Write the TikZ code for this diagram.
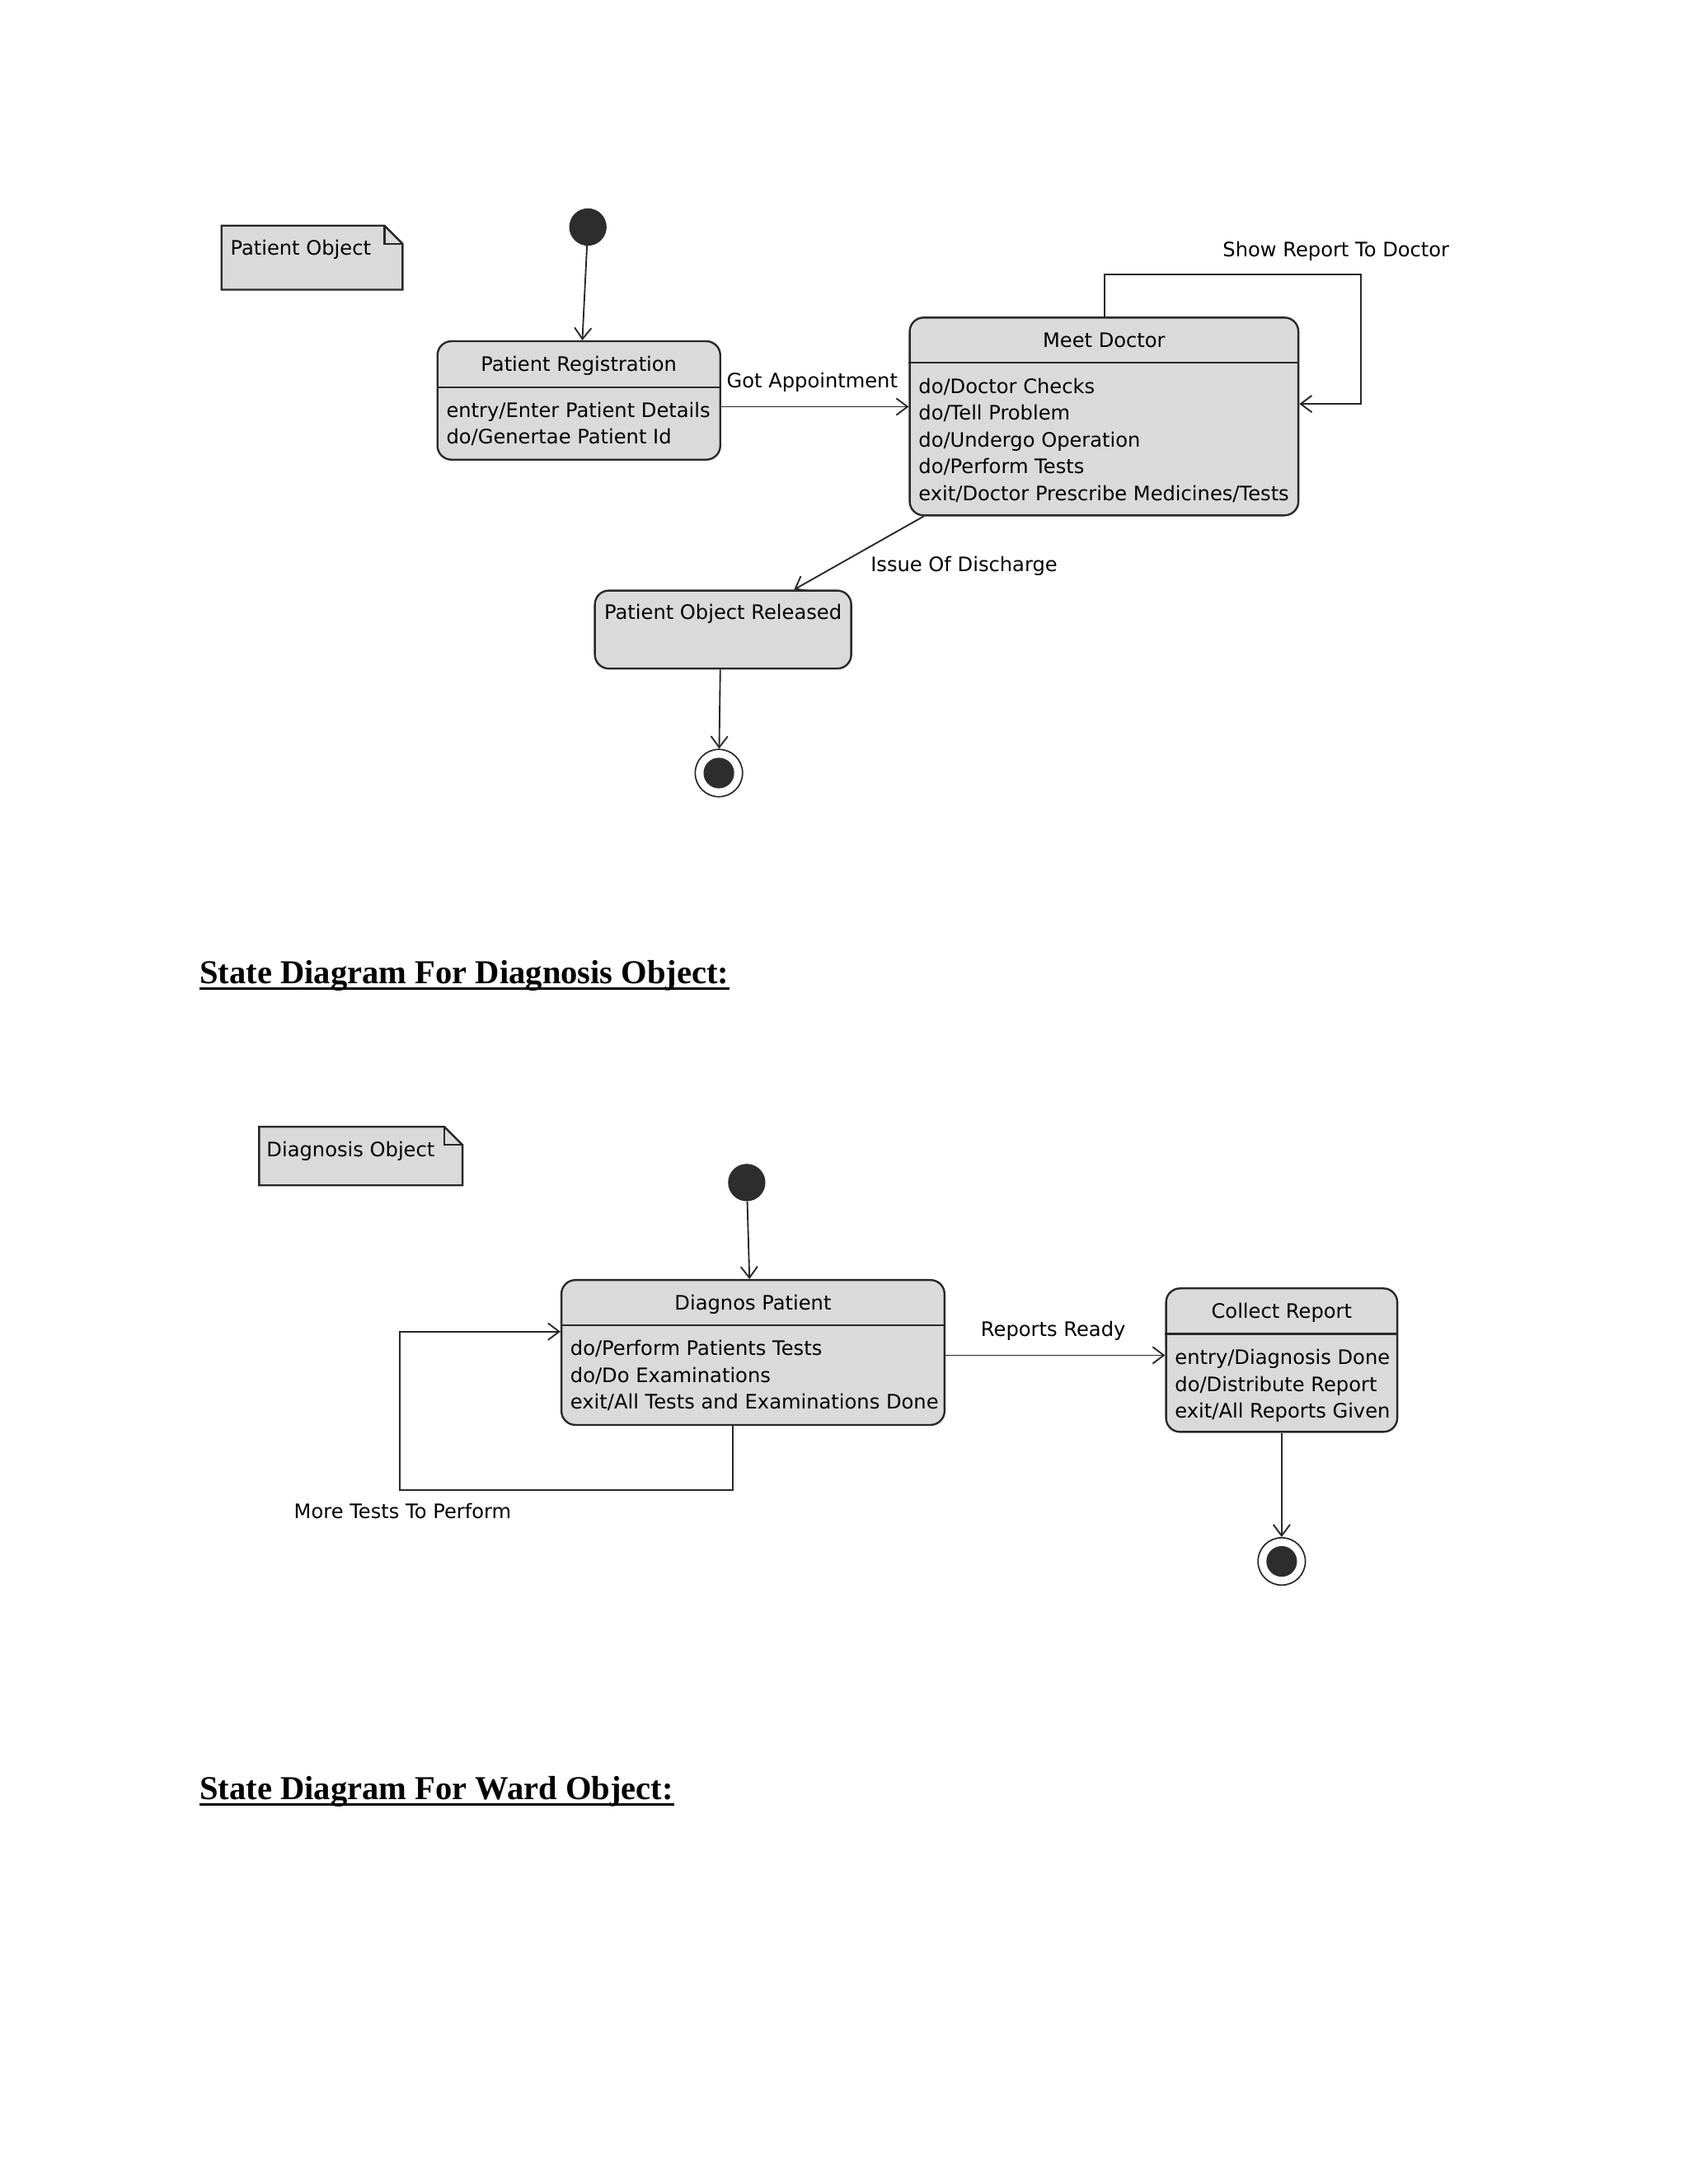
\documentclass[tikz,border=0pt]{standalone}
\usepackage{fontspec}
\setmainfont{Liberation Serif}
\newfontfamily\umlfont{DejaVu Sans}
\usetikzlibrary{arrows.meta,fit}
\definecolor{boxfill}{RGB}{218,218,218}
\definecolor{lineclr}{RGB}{40,40,40}
\definecolor{dotfill}{RGB}{45,45,45}
\newcommand\firstst{\rule{0pt}{7pt}}
\begin{document}
\begin{tikzpicture}[x=0.5pt,y=-0.5pt,
  umltext/.style={font=\umlfont\fontsize{7.15}{9.6}\selectfont, inner sep=0pt, text=black},
  body/.style={umltext, anchor=north west, align=left},
  stitle/.style={umltext, anchor=base},
  state/.style={draw=lineclr, line width=0.7pt, fill=boxfill, rounded corners=5pt, inner sep=0pt},
  divider/.style={draw=lineclr, line width=0.7pt},
  notebox/.style={draw=lineclr, line width=0.7pt, fill=boxfill},
  arr/.style={draw=lineclr, line width=0.55pt, -{Straight Barb[length=4pt,width=6pt]}},
  initst/.style={circle, fill=dotfill, draw=dotfill, minimum size=13pt, inner sep=0pt},
  finalst/.style={circle, draw=lineclr, line width=0.5pt, fill=white, minimum size=17pt, inner sep=0pt,
    path picture={\fill[dotfill] (path picture bounding box.center) circle (5.5pt);}},
  heading/.style={font=\bfseries\fontsize{12}{14}\selectfont, inner sep=0pt, anchor=base west},
  uline/.style={line width=1pt, draw=black}
]
\fill[white] (0,0) rectangle (1212,1568);
\useasboundingbox (0,0) rectangle (1212,1568);

% ---------------- Diagram 1: Patient Object ----------------
\draw[notebox] (159,162) -- (276,162) -- (289,175) -- (289,208) -- (159,208) -- cycle;
\draw[divider] (276,162) -- (276,175) -- (289,175);
\node[umltext, anchor=base west] (note1) at (165,183.4) {Patient Object};

\node[initst] (init1) at (422,163) {};

\node[state, fit={(314,245) (517,330)}] (reg) {};
\draw[divider] (reg.west |- 0,278) -- (reg.east |- 0,278);
\node[stitle] (regT) at (415.5,266.7) {Patient Registration};
\node[body] (regB) at (320,285) {\firstst entry/Enter Patient Details\\do/Genertae Patient Id};

\node[state, fit={(653,228) (932,370)}] (meet) {};
\draw[divider] (meet.west |- 0,260.4) -- (meet.east |- 0,260.4);
\node[stitle] (meetT) at (792.5,249.4) {Meet Doctor};
\node[body] (meetB) at (659,268) {\firstst do/Doctor Checks\\do/Tell Problem\\do/Undergo Operation\\do/Perform Tests\\exit/Doctor Prescribe Medicines/Tests};

\node[state, fit={(427,424) (611,480)}] (rel) {};
\node[stitle] (relT) at (519,444.4) {Patient Object Released};

\node[finalst] (final1) at (516,555) {};

\draw[arr] (init1) -- (reg.north -| 418,0);
\draw[arr] (reg.east |- 0,292) -- (meet.west |- 0,292);
\node[umltext, anchor=base] (lgot) at (583,278.4) {Got Appointment};
\draw[arr] (meet.north -| 793,0) |- (977,197) |- (meet.east |- 0,290);
\node[umltext, anchor=base] (lshow) at (959,184.4) {Show Report To Doctor};
\draw[arr] (meet.south west -| 663,0) -- (rel.north -| 570,0);
\node[umltext, anchor=base] (liss) at (692,410.4) {Issue Of Discharge};
\draw[arr] (rel.south -| 517,0) -- (final1);

% ---------------- Heading 1 ----------------
\node[heading] (h1) at (143,706) {State Diagram For Diagnosis Object:};
\draw[uline] ([yshift=-1.8pt]h1.base west) -- ([yshift=-1.8pt]h1.base east);

% ---------------- Diagram 2: Diagnosis Object ----------------
\draw[notebox] (186,809) -- (319,809) -- (332,822) -- (332,851) -- (186,851) -- cycle;
\draw[divider] (319,809) -- (319,822) -- (332,822);
\node[umltext, anchor=base west] (note2) at (191,830.4) {Diagnosis Object};

\node[initst] (init2) at (536,849) {};

\node[state, fit={(403,919) (678,1023)}] (diag) {};
\draw[divider] (diag.west |- 0,951.5) -- (diag.east |- 0,951.5);
\node[stitle] (diagT) at (540.5,940.2) {Diagnos Patient};
\node[body] (diagB) at (409,958.7) {\firstst do/Perform Patients Tests\\do/Do Examinations\\exit/All Tests and Examinations Done};

\node[state, fit={(837,925) (1003,1028)}] (coll) {};
\draw[divider] (coll.west |- 0,957.7) -- (coll.east |- 0,957.7);
\node[stitle] (collT) at (920,946.4) {Collect Report};
\node[body] (collB) at (843,965.4) {\firstst entry/Diagnosis Done\\do/Distribute Report\\exit/All Reports Given};

\node[finalst] (final2) at (920,1121) {};

\draw[arr] (init2) -- (diag.north -| 538,0);
\draw[arr] (diag.east |- 0,973) -- (coll.west |- 0,973);
\node[umltext, anchor=base] (lrep) at (756,959.4) {Reports Ready};
\draw[arr] (diag.south -| 526,0) |- (287,1070) |- (diag.west |- 0,956);
\node[umltext, anchor=base] (lmore) at (289,1090.4) {More Tests To Perform};
\draw[arr] (coll.south) -- (final2);

% ---------------- Heading 2 ----------------
\node[heading] (h2) at (143,1292) {State Diagram For Ward Object:\ };
\draw[uline] ([yshift=-1.8pt]h2.base west) -- ([yshift=-1.8pt]h2.base east);
\end{tikzpicture}
\end{document}
